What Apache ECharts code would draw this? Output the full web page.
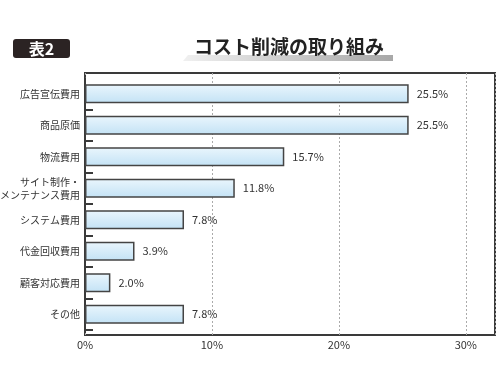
<!DOCTYPE html>
<html><head><meta charset="utf-8">
<script src="https://cdn.jsdelivr.net/npm/echarts@6/dist/echarts.min.js"></script>
<style>html,body{margin:0;padding:0;background:#fff}#c{width:500px;height:375px}</style>
</head><body><div id="c"></div>
<script>
var categories = ['広告宣伝費用','商品原価','物流費用','サイト制作・\nメンテナンス費用','システム費用','代金回収費用','顧客対応費用','その他'];
var values = [25.5,25.5,15.7,11.8,7.8,3.9,2.0,7.8];
var xMax = 32.3;
var xInterval = 10;
var titleText = 'コスト削減の取り組み';
var tagText = '表2';

var FONT = '"Noto Sans CJK JP", "Noto Sans", sans-serif';
var chart = echarts.init(document.getElementById('c'), null, {renderer:'canvas'});
chart.setOption({
  animation:false,
  backgroundColor:'#fff',
  grid:[
    {left:85, right:5, top:73, bottom:40, show:true, borderColor:'#3a3a3a', borderWidth:2, backgroundColor:'transparent', outerBoundsMode:'none', containLabel:false},
    {left:85, right:5, top:78, bottom:45, outerBoundsMode:'none', containLabel:false}
  ],
  xAxis:[
    {gridIndex:0, type:'value', min:0, max:xMax, interval:xInterval,
     axisLine:{show:false}, axisTick:{show:false},
     splitLine:{show:true, lineStyle:{color:'#aaaaaa', type:[2,2], width:1}},
     axisLabel:{color:'#333', fontSize:11, fontFamily:FONT, margin:4,
       formatter:function(v){return v+'%';}, showMaxLabel:false}},
    {gridIndex:1, type:'value', min:0, max:xMax, show:false}
  ],
  yAxis:[
    {gridIndex:0, type:'value', show:false},
    {gridIndex:1, type:'category', data:categories, inverse:true,
     axisLine:{show:true, lineStyle:{color:'#3a3a3a', width:2}},
     axisTick:{show:true, inside:true, length:8, lineStyle:{color:'#3a3a3a', width:2},
       interval:function(i){return i>0 && i<categories.length;}},
     axisLabel:{color:'#333', fontSize:10, fontFamily:FONT, margin:5, lineHeight:13, align:'right'}}
  ],
  series:[{
    type:'bar', xAxisIndex:1, yAxisIndex:1, data:values, barWidth:19,
    itemStyle:{
      color:new echarts.graphic.LinearGradient(0,0,0,1,[{offset:0,color:'#eaf6fd'},{offset:1,color:'#c3e2f5'}]),
      borderColor:'#444', borderWidth:1.5
    },
    label:{show:true, position:'right', distance:8, color:'#333', fontSize:11, fontFamily:FONT,
      formatter:function(p){return p.value.toFixed(1)+'%';}}
  }],
  graphic:[
    {type:'rect', shape:{x:13,y:39,width:57,height:19,r:3}, style:{fill:'#2b2323'}},
    {type:'text', x:41.5, y:48.5, style:{text:tagText, fill:'#fff', font:'bold 16px '+FONT, textAlign:'center', textVerticalAlign:'middle'}},
    {type:'polygon', shape:{points:[[188,55],[393,55],[393,61],[183,61]]},
     style:{fill:new echarts.graphic.LinearGradient(0,0,1,0,[{offset:0,color:'#f0f0f0'},{offset:1,color:'#a8a8a8'}])}},
    {type:'text', x:289, y:47, style:{text:titleText, fill:'#222', font:'bold 19px '+FONT, textAlign:'center', textVerticalAlign:'middle'}}
  ]
});
</script></body></html>
